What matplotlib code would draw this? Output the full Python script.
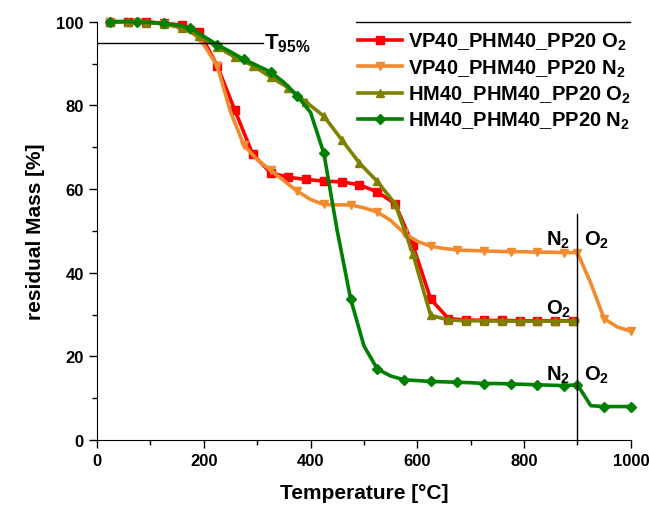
import numpy as np
import matplotlib
matplotlib.use("Agg")
import matplotlib.pyplot as plt

plt.rcParams['font.family'] = ['Liberation Sans', 'DejaVu Sans']
plt.rcParams['font.weight'] = 'bold'
plt.rcParams['mathtext.fontset'] = 'custom'
plt.rcParams['mathtext.rm'] = 'Liberation Sans'
plt.rcParams['mathtext.bf'] = 'Liberation Sans:bold'
plt.rcParams['mathtext.default'] = 'bf'

# temperatures (°C)
T_o2 = np.append(25 + np.arange(27) * 100 / 3, 900)   # O2 runs, end at 900
T_n2 = np.arange(25, 1001, 25)                          # N2 runs (switch to O2 at 900)

# residual mass [%]
vp_o2 = [100, 100, 100, 99.6, 99.2, 97.5, 89.5, 78.8, 68.3, 63.9, 62.8, 62.3, 61.9, 61.7,
         61.0, 59.3, 56.5, 46.6, 33.7, 29.0, 28.7, 28.6, 28.6, 28.5, 28.5, 28.5, 28.5, 28.5]
hm_o2 = [100, 100, 99.8, 99.5, 98.5, 96.5, 94.0, 91.5, 89.5, 86.8, 84.2, 80.8, 77.4, 71.8,
         66.2, 61.8, 56.5, 44.5, 29.8, 28.7, 28.5, 28.5, 28.4, 28.4, 28.4, 28.4, 28.4, 28.4]
vp_n2 = [100, 100, 100, 99.8, 99.5, 99.0, 98.0, 94.5, 89.5, 78.5, 70.5, 67.0, 64.5, 62.0,
         59.5, 57.5, 56.3, 56.2, 56.2, 55.5, 54.5, 52.5, 49.5, 47.5, 46.3, 45.8, 45.4, 45.3,
         45.2, 45.1, 45.0, 45.0, 44.9, 44.9, 44.8, 44.8, 37.5, 29.0, 27.0, 26.0]
hm_n2 = [100, 100, 100, 99.8, 99.6, 99.2, 98.5, 96.5, 94.5, 92.8, 91.0, 89.5, 88.0, 85.5,
         82.3, 78.3, 68.5, 50.0, 33.8, 22.5, 17.0, 15.3, 14.4, 14.2, 14.0, 13.9, 13.8, 13.7,
         13.5, 13.5, 13.4, 13.3, 13.2, 13.1, 13.0, 13.2, 8.2, 8.0, 8.0, 8.0]

labels = ['VP40_PHM40_PP20 O$_2$', 'VP40_PHM40_PP20 N$_2$',
          'HM40_PHM40_PP20 O$_2$', 'HM40_PHM40_PP20 N$_2$']
colors = ['#ff0000', '#f28a30', '#808000', '#008000']
markers = ['s', 'v', '^', 'D']

mk_o2 = [True] * (len(T_o2) - 1) + [False]
mk_n2 = list((((T_n2 - 25) % 50 == 0) & (T_n2 < 900)) | ((T_n2 >= 900) & (T_n2 % 50 == 0)))

fig = plt.figure(figsize=(6.49, 5.10), dpi=100)
ax = fig.add_axes([0.1495, 0.1353, 0.8225, 0.8202])

series = [(T_o2, vp_o2, mk_o2), (T_n2, vp_n2, mk_n2), (T_o2, hm_o2, mk_o2), (T_n2, hm_n2, mk_n2)]
for (t, m, mk), lab, c, mark in zip(series, labels, colors, markers):
    ax.plot(t, m, color=c, lw=2.6, marker=mark, ms=5.5, markevery=mk, label=lab, clip_on=False)

# T95 line and gas switch line
ax.plot([0, 310], [95, 95], color='black', lw=1)
ax.text(313, 95, r'$\mathrm{T}_{\mathbf{95\%}}$', fontsize=16, va='center', ha='left')
ax.plot([900, 900], [0, 54], color='black', lw=1)

fs = 14.5
ax.text(864, 48, 'N$_2$', fontsize=fs, ha='center', va='center')
ax.text(935, 48, 'O$_2$', fontsize=fs, ha='center', va='center')
ax.text(864, 31.5, 'O$_2$', fontsize=fs, ha='center', va='center')
ax.text(864, 15.8, 'N$_2$', fontsize=fs, ha='center', va='center')
ax.text(935, 15.8, 'O$_2$', fontsize=fs, ha='center', va='center')

ax.set_xlim(0, 1000)
ax.set_ylim(0, 100)
ax.set_xticks(np.arange(0, 1001, 200))
ax.set_xticks(np.arange(100, 1000, 200), minor=True)
ax.set_yticks(np.arange(0, 101, 20))
ax.set_yticks(np.arange(10, 100, 20), minor=True)
ax.tick_params(which='major', length=6, width=1, labelsize=12)
ax.tick_params(which='minor', length=3.5, width=1)
for lab in ax.get_xticklabels() + ax.get_yticklabels():
    lab.set_fontweight('bold')
ax.spines['top'].set_visible(False)
ax.spines['right'].set_visible(False)
ax.set_xlabel('Temperature [°C]', fontsize=15, fontweight='bold', labelpad=11)
ax.set_ylabel('residual Mass [%]', fontsize=15, fontweight='bold', labelpad=8)

# legend with a rule above it
ax.plot([486, 998], [100, 100], color='black', lw=1, clip_on=False)
leg = ax.legend(loc='upper left', bbox_to_anchor=(0.489, 0.978), frameon=False,
                fontsize=14.5, handlelength=2.2, handletextpad=0.3, labelspacing=0.25,
                borderpad=0, borderaxespad=0)

fig.savefig('out.png', dpi=100)
